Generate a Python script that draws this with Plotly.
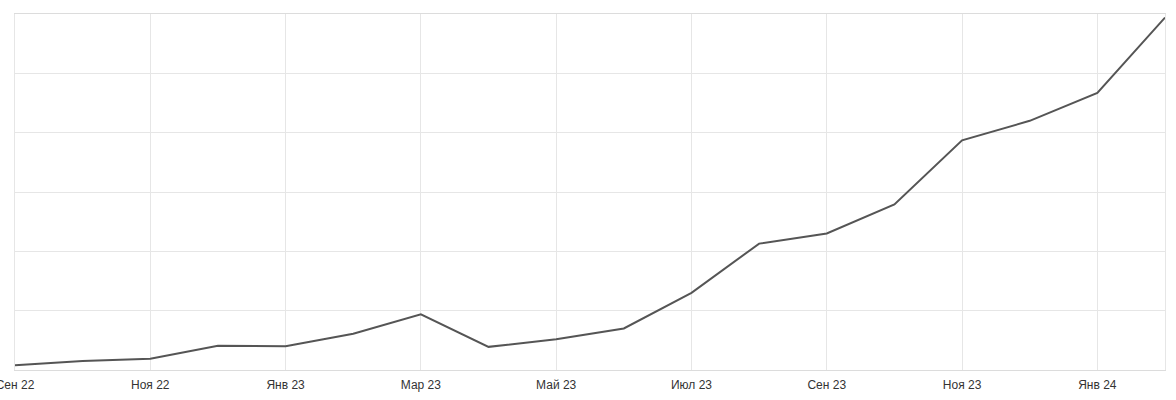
import plotly.graph_objects as go

months = ["Сен 22", "Окт 22", "Ноя 22", "Дек 22", "Янв 23", "Фев 23", "Мар 23", "Апр 23",
          "Май 23", "Июн 23", "Июл 23", "Авг 23", "Сен 23", "Окт 23", "Ноя 23", "Дек 23",
          "Янв 24", "Фев 24"]
values = [0.08, 0.15, 0.19, 0.41, 0.40, 0.61, 0.94, 0.39, 0.52, 0.70, 1.30, 2.13,
          2.30, 2.79, 3.87, 4.20, 4.67, 5.94]
tick_labels = ["Сен 22", "Ноя 22", "Янв 23", "Мар 23", "Май 23", "Июл 23", "Сен 23",
               "Ноя 23", "Янв 24"]

x_idx = list(range(len(months)))
tick_idx = [months.index(t) for t in tick_labels]

fig = go.Figure(go.Scatter(
    x=x_idx, y=values, mode="lines",
    line=dict(color="#555555", width=2),
    hoverinfo="skip",
))

fig.update_layout(
    width=1176, height=400,
    margin=dict(l=14.5, r=11, t=13.5, b=30, autoexpand=False),
    paper_bgcolor="white", plot_bgcolor="white",
    showlegend=False,
    font=dict(family="Liberation Sans, Arial, sans-serif", size=12, color="#333333"),
)
fig.update_xaxes(
    range=[0, len(months) - 1],
    tickmode="array", tickvals=tick_idx, ticktext=tick_labels,
    showgrid=True, gridcolor="#e6e6e6", gridwidth=1,
    showline=True, linecolor="#dcdcdc", linewidth=1, mirror=True,
    zeroline=False, ticks="", automargin=False, ticklabelstandoff=4,
    ticklabeloverflow="allow",
)
fig.update_yaxes(
    range=[0, 6], dtick=1,
    showticklabels=False,
    showgrid=True, gridcolor="#e6e6e6", gridwidth=1,
    showline=True, linecolor="#e6e6e6", linewidth=1, mirror=True,
    zeroline=False, ticks="", automargin=False,
)

fig.write_html(
    "out.html",
    config={"displayModeBar": False},
    post_script="document.body.style.margin='0';document.body.style.overflow='hidden';",
)
